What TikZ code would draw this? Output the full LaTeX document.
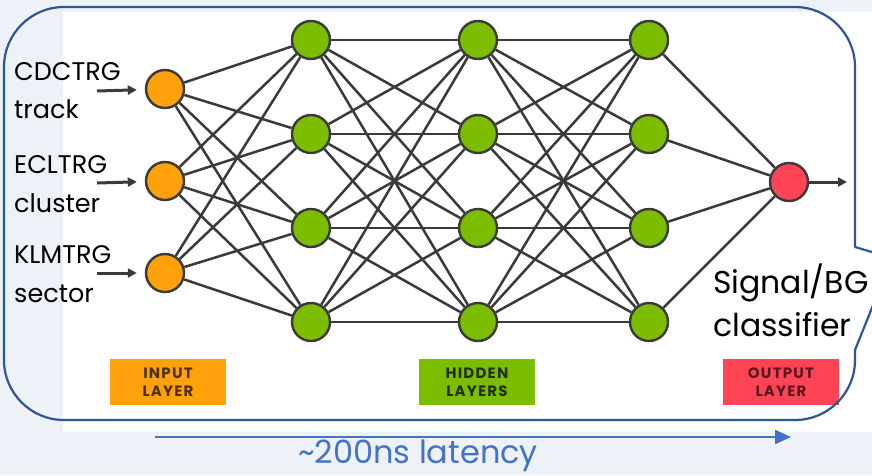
\documentclass[tikz,border=0pt]{standalone}
\usepackage{fontspec}
\setmainfont{Poppins}
\newfontfamily\boxfont[LetterSpace=8]{Poppins}
\usetikzlibrary{arrows.meta, positioning}
\definecolor{bgblue}{HTML}{EDF2F8}
\definecolor{frameblue}{HTML}{2F5597}
\definecolor{latblue}{HTML}{4472C4}
\definecolor{inorange}{HTML}{FFA10A}
\definecolor{hidgreen}{HTML}{7DBD00}
\definecolor{outred}{HTML}{FF4455}
\definecolor{wire}{HTML}{3A3A3A}

\begin{document}
\begin{tikzpicture}[x=1pt,y=-1pt,>={Triangle[length=9pt,width=9pt]},
      neuron/.style={circle,draw=wire,line width=2.4pt,minimum size=38pt,inner sep=0pt},
      link/.style={draw=wire,line width=2.5pt},
      feed/.style={->,draw=wire,line width=3pt,shorten >=8pt},
      layerbox/.style={minimum width=116pt,minimum height=46pt,inner sep=0pt,
        align=center,font=\boxfont\bfseries\fontsize{15}{18}\selectfont},
      inlabel/.style={anchor=base west,inner sep=0pt,font=\fontsize{25.5}{30}\selectfont},
      outlabel/.style={anchor=base west,inner sep=0pt,font=\fontsize{31.5}{38}\selectfont}]
      % backdrop
      \fill[bgblue] (0,0) rectangle (872,475);
      \fill[white] (63,12) rectangle (872,432);
      \clip (0,0) rectangle (872,475);
      % neurons
      \foreach \n/\y in {1/89,2/181,3/273}
        \node[neuron,fill=inorange] (in_\n) at (165,\y) {};
      \foreach \n/\y in {1/40,2/134,3/228,4/322} {
        \node[neuron,fill=hidgreen] (ha_\n) at (311,\y) {};
        \node[neuron,fill=hidgreen] (hb_\n) at (478,\y) {};
        \node[neuron,fill=hidgreen] (hc_\n) at (649,\y) {};
      }
      \node[neuron,fill=outred] (out) at (789,182) {};
      % weights
      \foreach \i in {1,...,3}
        \foreach \j in {1,...,4}
          \path[link] (in_\i) -- (ha_\j);
      \foreach \i in {1,...,4} {
        \foreach \j in {1,...,4} {
          \path[link] (ha_\i) -- (hb_\j);
          \path[link] (hb_\i) -- (hc_\j);
        }
        \path[link] (hc_\i) -- (out);
      }
      % inputs
      \foreach \n/\y in {1/91,2/183,3/273} {
        \coordinate (src_\n) at (97,\y);
        \path[feed] (src_\n) -- (in_\n);
      }
      \coordinate (res) at (847,182);
      \draw[->,wire,line width=3pt] (out) -- (res);
      \node[inlabel] (cdc) at (14,80) {CDCTRG};
      \node[inlabel] (trk) at (14,118) {track};
      \node[inlabel] (ecl) at (14,173) {ECLTRG};
      \node[inlabel] (clu) at (14,212) {cluster};
      \node[inlabel] (klm) at (14,263) {KLMTRG};
      \node[inlabel] (sec) at (14,302) {sector};
      \node[outlabel] (sig) at (713,293) {Signal/BG};
      \node[outlabel] (cls) at (713,336) {classifier};
      % layer tags
      \node[layerbox,fill=inorange,text=inorange!30!black] (tag_in) at (168,382) {INPUT\\LAYER};
      \node[layerbox,fill=hidgreen,text=hidgreen!25!black] (tag_hid) at (477,382) {HIDDEN\\LAYERS};
      \node[layerbox,fill=outred,text=outred!35!black] (tag_out) at (781,382) {OUTPUT\\LAYER};
      % callout
      \draw[frameblue,line width=2.2pt,line cap=round,line join=round]
        (855,247) -- (892,258) -- (855,350) -- (855,360) [rounded corners=60pt]
        -- (855,420) -- (4,420) -- (4,7) -- (855,7) -- (855,247);
      % latency
      \coordinate (lat_a) at (155,437);
      \coordinate (lat_b) at (791,437);
      \draw[latblue,line width=2.5pt,-{Triangle[length=16pt,width=14pt]}] (lat_a) -- (lat_b);
      \node[anchor=base,inner sep=0pt,text=latblue,font=\fontsize{32}{40}\selectfont] (lat) at (418,463)
        {\textasciitilde200ns latency};
    \end{tikzpicture}
\end{document}
